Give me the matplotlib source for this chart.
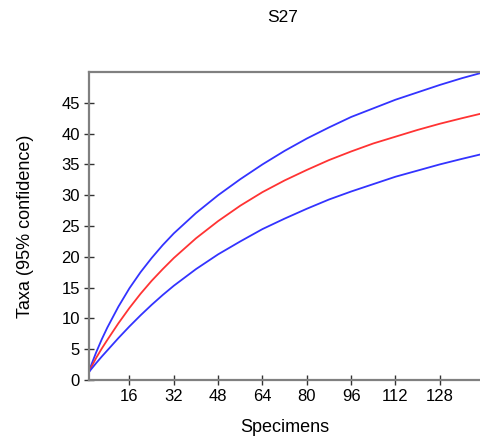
import matplotlib

matplotlib.use("Agg")
import matplotlib.pyplot as plt

plt.rcParams["font.family"] = ["Liberation Sans", "DejaVu Sans"]

SPINE = "#808080"
BLUE = "#3333ff"
RED = "#ff3333"

# specimens (x) and rarefied taxa: mean and 95% bounds
specimens = [1, 2, 4, 6, 8, 12, 16, 20, 24, 28, 32, 40, 48, 56, 64, 72, 80,
             88, 96, 104, 112, 120, 128, 136, 142.5]
taxa_mean = [1.0, 1.9, 3.6, 5.1, 6.5, 9.2, 11.7, 14.0, 16.1, 18.0, 19.8,
             23.0, 25.8, 28.3, 30.5, 32.4, 34.1, 35.7, 37.1, 38.4, 39.5,
             40.6, 41.6, 42.5, 43.2]
taxa_upper = [1.0, 2.2, 4.5, 6.6, 8.5, 11.9, 14.9, 17.5, 19.8, 21.9, 23.8,
              27.1, 30.0, 32.6, 35.0, 37.2, 39.2, 41.0, 42.7, 44.1, 45.5,
              46.7, 47.9, 49.0, 49.8]
taxa_lower = [1.0, 1.65, 2.75, 3.8, 4.8, 6.8, 8.7, 10.5, 12.2, 13.8, 15.3,
              18.0, 20.4, 22.5, 24.5, 26.2, 27.8, 29.3, 30.6, 31.8, 33.0,
              34.0, 35.0, 35.9, 36.6]

x_ticks = [16, 32, 48, 64, 80, 96, 112, 128]
y_ticks = [0, 5, 10, 15, 20, 25, 30, 35, 40, 45]

fig = plt.figure(figsize=(4.8, 4.42), dpi=100)
ax = fig.add_axes([89 / 480, 1 - 380 / 442, 391 / 480, 308 / 442])

ax.plot(specimens, taxa_upper, color=BLUE, linewidth=1.3)
ax.plot(specimens, taxa_mean, color=RED, linewidth=1.3)
ax.plot(specimens, taxa_lower, color=BLUE, linewidth=1.3)

ax.set_xlim(1.4, 142.5)
ax.set_ylim(0, 50)
ax.set_xticks(x_ticks)
ax.set_yticks(y_ticks)

ax.spines["right"].set_visible(False)
for side in ("top", "left", "bottom"):
    ax.spines[side].set_color(SPINE)
    ax.spines[side].set_linewidth(1.6)

ax.tick_params(direction="inout", length=7, width=1, color="#333333",
               labelsize=12, pad=3)

ax.set_xlabel("Specimens", fontsize=13)
ax.set_ylabel("Taxa (95% confidence)", fontsize=13)
ax.xaxis.set_label_coords(0.5, -0.125)
ax.yaxis.set_label_coords(-0.141, 0.5)
fig.text(283 / 480, 1 - 18 / 442, "S27", ha="center", va="center",
         fontsize=12.5)

fig.savefig("out.png", dpi=100)
